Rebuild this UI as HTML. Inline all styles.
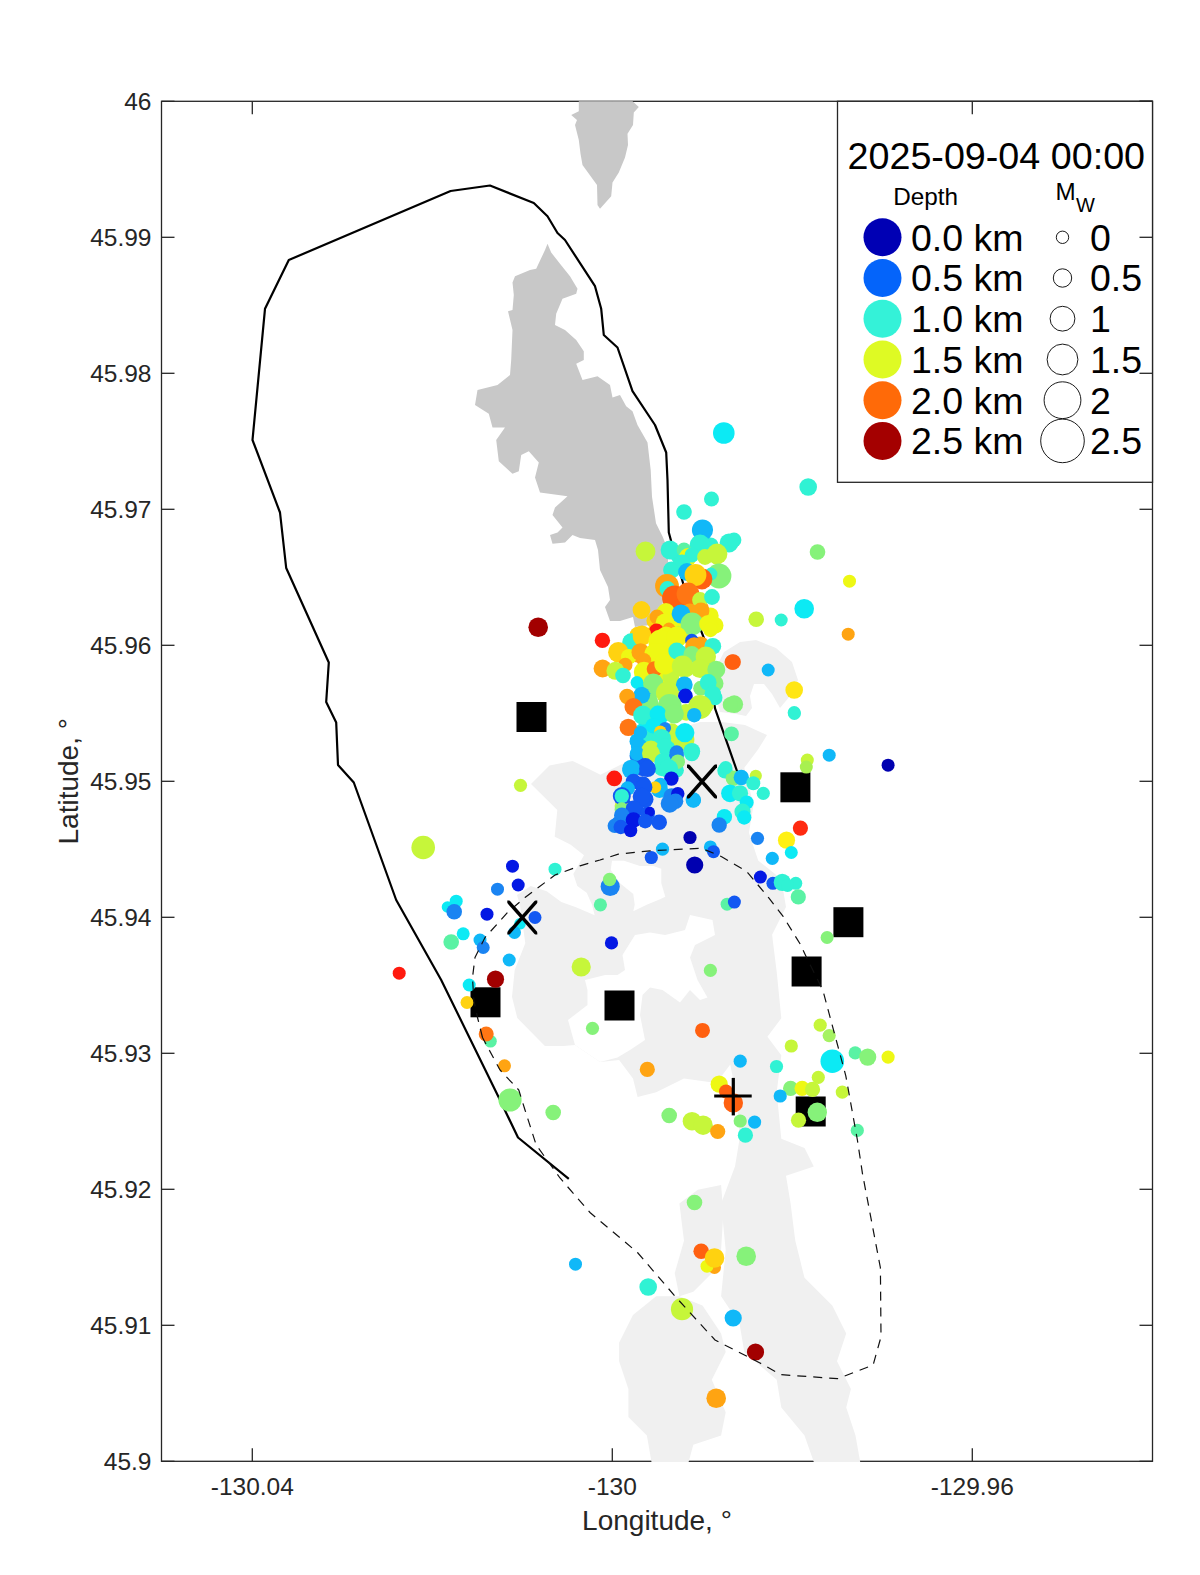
<!DOCTYPE html>
<html><head><meta charset="utf-8"><title>Earthquake map</title>
<style>html,body{margin:0;padding:0;background:#fff;}svg{display:block;}</style>
</head><body>
<svg width="1200" height="1575" viewBox="0 0 1200 1575">
<rect width="1200" height="1575" fill="#fff"/>
<g stroke="#262626" stroke-width="1.3" fill="none">
<rect x="161.5" y="101.3" width="991.0" height="1360.0"/>
<line x1="161.5" y1="101.3" x2="174.5" y2="101.3"/>
<line x1="1152.5" y1="101.3" x2="1139.5" y2="101.3"/>
<line x1="161.5" y1="237.3" x2="174.5" y2="237.3"/>
<line x1="1152.5" y1="237.3" x2="1139.5" y2="237.3"/>
<line x1="161.5" y1="373.3" x2="174.5" y2="373.3"/>
<line x1="1152.5" y1="373.3" x2="1139.5" y2="373.3"/>
<line x1="161.5" y1="509.3" x2="174.5" y2="509.3"/>
<line x1="1152.5" y1="509.3" x2="1139.5" y2="509.3"/>
<line x1="161.5" y1="645.3" x2="174.5" y2="645.3"/>
<line x1="1152.5" y1="645.3" x2="1139.5" y2="645.3"/>
<line x1="161.5" y1="781.3" x2="174.5" y2="781.3"/>
<line x1="1152.5" y1="781.3" x2="1139.5" y2="781.3"/>
<line x1="161.5" y1="917.3" x2="174.5" y2="917.3"/>
<line x1="1152.5" y1="917.3" x2="1139.5" y2="917.3"/>
<line x1="161.5" y1="1053.3" x2="174.5" y2="1053.3"/>
<line x1="1152.5" y1="1053.3" x2="1139.5" y2="1053.3"/>
<line x1="161.5" y1="1189.3" x2="174.5" y2="1189.3"/>
<line x1="1152.5" y1="1189.3" x2="1139.5" y2="1189.3"/>
<line x1="161.5" y1="1325.3" x2="174.5" y2="1325.3"/>
<line x1="1152.5" y1="1325.3" x2="1139.5" y2="1325.3"/>
<line x1="161.5" y1="1461.3" x2="174.5" y2="1461.3"/>
<line x1="1152.5" y1="1461.3" x2="1139.5" y2="1461.3"/>
<line x1="252.3" y1="1461.3" x2="252.3" y2="1448.3"/>
<line x1="252.3" y1="101.3" x2="252.3" y2="114.3"/>
<line x1="612.3" y1="1461.3" x2="612.3" y2="1448.3"/>
<line x1="612.3" y1="101.3" x2="612.3" y2="114.3"/>
<line x1="972.3" y1="1461.3" x2="972.3" y2="1448.3"/>
<line x1="972.3" y1="101.3" x2="972.3" y2="114.3"/>
</g>
<g font-family="Liberation Sans, sans-serif" fill="#262626" font-size="24.5">
<text x="151.5" y="110.0" text-anchor="end">46</text>
<text x="151.5" y="246.0" text-anchor="end">45.99</text>
<text x="151.5" y="382.0" text-anchor="end">45.98</text>
<text x="151.5" y="518.0" text-anchor="end">45.97</text>
<text x="151.5" y="654.0" text-anchor="end">45.96</text>
<text x="151.5" y="790.0" text-anchor="end">45.95</text>
<text x="151.5" y="926.0" text-anchor="end">45.94</text>
<text x="151.5" y="1062.0" text-anchor="end">45.93</text>
<text x="151.5" y="1198.0" text-anchor="end">45.92</text>
<text x="151.5" y="1334.0" text-anchor="end">45.91</text>
<text x="151.5" y="1470.0" text-anchor="end">45.9</text>
<text x="252.3" y="1494.8" text-anchor="middle">-130.04</text>
<text x="612.3" y="1494.8" text-anchor="middle">-130</text>
<text x="972.3" y="1494.8" text-anchor="middle">-129.96</text>
</g>
<text x="657" y="1530" text-anchor="middle" font-family="Liberation Sans, sans-serif" font-size="28" fill="#262626">Longitude, °</text>
<text transform="translate(78.3 781.3) rotate(-90)" text-anchor="middle" font-family="Liberation Sans, sans-serif" font-size="28" fill="#262626">Latitude, °</text>
<g fill="#F0F0F0" stroke="none">
<polygon points="724.0,652.0 740.0,642.0 756.0,640.0 776.0,648.0 792.0,662.0 798.0,680.0 790.0,696.0 780.0,708.0 772.0,694.0 764.0,684.0 754.0,684.0 750.0,696.0 752.0,708.0 746.0,716.0 736.0,714.0 720.0,712.0 714.0,690.0 716.0,668.0"/>
<polygon points="531.0,784.0 549.5,765.5 572.7,760.9 600.5,774.8 633.0,758.5 660.0,735.0 700.0,722.0 722.0,722.0 745.0,725.0 767.0,735.0 758.2,749.3 744.3,767.8 753.5,804.9 748.9,832.7 758.2,860.5 781.3,879.1 786.0,906.9 772.1,934.7 776.7,971.8 781.3,1018.2 767.4,1036.7 781.3,1055.2 776.7,1092.3 781.3,1138.7 804.5,1148.0 813.8,1166.5 786.0,1175.8 790.6,1203.6 795.3,1240.7 804.5,1277.8 832.3,1305.6 846.2,1333.4 837.0,1361.2 850.9,1389.0 846.2,1407.6 855.5,1435.4 860.2,1462.0 813.8,1462.0 804.5,1435.4 781.3,1407.6 776.7,1379.8 744.3,1352.0 739.6,1324.1 721.1,1296.3 725.7,1250.0 721.1,1203.6 735.0,1166.5 739.6,1138.7 737.3,1101.6 730.3,1064.5 716.4,1083.1 684.0,1078.4 656.2,1092.3 637.6,1097.0 633.0,1078.4 619.1,1059.9 600.0,1062.0 575.0,1045.0 563.4,1046.0 544.9,1046.0 517.3,1018.0 512.0,996.7 514.7,970.0 525.3,943.3 520.0,905.0 517.0,895.0 530.7,886.0 546.7,891.3 561.3,902.0 576.0,907.3 594.7,915.3 592.0,904.7 586.7,892.7 577.3,886.0 573.3,874.0 584.0,855.3 570.7,844.7 560.0,839.3 554.7,836.7 557.3,810.0"/>
<polygon points="679.4,1203.6 697.9,1189.7 721.1,1185.0 723.4,1212.9 721.1,1250.0 711.8,1273.2 693.3,1291.7 679.4,1296.3 674.7,1273.2 684.0,1240.7"/>
<polygon points="619.1,1342.7 633.0,1314.9 656.2,1296.3 679.4,1296.3 702.5,1305.6 721.1,1333.4 725.7,1352.0 711.8,1379.8 725.7,1412.2 721.1,1435.4 693.3,1444.7 688.6,1462.0 651.5,1462.0 646.9,1435.4 628.4,1416.9 628.4,1389.0 619.1,1361.2"/>
</g>
<g fill="#fff" stroke="none">
<polygon points="612.0,860.7 610.7,870.0 620.0,883.3 633.3,894.0 634.7,904.7 633.3,911.3 646.7,904.7 660.0,899.3 665.3,896.7 661.3,883.3 661.3,868.7 653.3,866.0 640.0,866.0 624.0,860.7"/>
<polygon points="575.0,1045.0 568.0,1020.0 587.5,1005.0 587.5,990.0 585.0,980.0 605.0,975.0 617.5,975.0 625.0,970.0 622.5,955.0 635.0,935.0 650.0,932.5 665.0,935.0 685.0,930.0 690.0,915.0 712.5,920.0 715.0,935.0 695.0,945.0 690.0,957.5 697.5,980.0 707.5,997.5 700.0,1000.0 690.0,990.0 680.0,1002.5 662.5,990.0 650.0,987.5 642.5,995.0 640.0,1015.0 645.0,1040.0 630.0,1050.0 617.5,1057.5 600.0,1062.0"/>
</g>
<g fill="#C8C8C8" stroke="none">
<polygon points="578.8,101.3 632.5,101.3 638.8,107.0 633.8,112.5 633.0,125.0 627.5,133.8 628.0,145.0 625.0,157.5 618.8,172.5 612.5,182.5 611.2,196.2 600.0,208.8 597.5,205.0 597.0,185.0 582.5,165.0 580.5,153.8 578.8,140.0 575.0,125.0 577.0,120.0 571.2,115.0 578.8,111.2"/>
<polygon points="547.5,243.8 551.2,252.5 560.0,263.8 570.0,276.2 577.5,288.8 576.2,293.8 562.5,298.8 556.2,313.8 555.0,325.0 565.0,330.0 576.2,340.0 583.8,351.2 583.8,360.0 576.2,363.8 582.5,380.0 597.5,376.2 610.0,385.0 612.5,397.5 620.0,395.0 626.2,406.2 632.5,411.2 637.5,425.0 647.5,442.5 650.7,470.0 652.0,496.7 656.0,523.3 662.7,536.7 668.0,550.0 668.0,576.7 662.7,603.3 650.0,625.0 635.0,627.0 633.0,617.0 620.0,621.0 610.0,621.0 605.0,607.0 610.0,600.0 608.0,587.0 600.0,570.0 598.0,550.0 595.0,540.0 580.0,538.0 572.5,535.0 565.0,542.5 552.5,543.8 550.0,535.0 557.5,532.5 562.5,527.5 552.5,515.0 555.0,507.5 567.5,496.2 540.0,492.5 535.0,477.5 538.8,462.5 528.8,451.2 521.2,455.0 518.8,471.2 512.5,473.8 498.8,461.2 496.2,440.0 505.0,427.5 492.5,427.5 488.8,413.8 475.0,405.0 477.5,390.0 497.5,385.0 510.0,375.0 511.2,360.0 512.5,330.0 508.0,311.2 512.5,310.0 513.8,295.0 512.5,282.5 515.0,276.2 530.0,270.0 536.2,268.8 545.0,250.0"/>
</g>
<polyline points="737.5,772.5 715.0,708.3 706.2,643.8 701.2,631.2 685.0,590.0 671.2,541.2 668.8,532.5 667.5,480.0 666.2,452.5 655.0,425.0 632.5,391.2 617.5,347.5 603.8,335.0 601.2,308.8 595.0,286.2 565.0,240.0 557.5,233.0 547.5,216.2 533.8,203.0 490.0,185.5 450.6,191.0 288.8,260.0 265.0,308.8 252.5,440.0 280.0,512.5 286.2,568.0 328.8,662.5 326.2,702.0 336.2,722.5 338.0,765.0 353.8,782.5 396.2,900.0 441.2,980.0 498.8,1097.5 518.0,1137.5 568.8,1178.8" fill="none" stroke="#000" stroke-width="2.2" stroke-linejoin="round"/>
<g fill="#000">
<rect x="516.5" y="702.0" width="30" height="30"/>
<rect x="470.5" y="987.3" width="30" height="30"/>
<rect x="604.5" y="990.5" width="30" height="30"/>
<rect x="780.4" y="772.3" width="30" height="30"/>
<rect x="833.4" y="907.2" width="30" height="30"/>
<rect x="791.6" y="956.5" width="30" height="30"/>
<rect x="795.7" y="1096.5" width="30" height="30"/>
</g>
<g stroke="none">
<circle cx="723.8" cy="433.0" r="10.8" fill="#0CEAF4"/>
<circle cx="808.2" cy="487.0" r="8.8" fill="#30F2D4"/>
<circle cx="711.5" cy="499.0" r="7.5" fill="#30F2D4"/>
<circle cx="684.0" cy="512.0" r="7.8" fill="#30F2D4"/>
<circle cx="817.5" cy="552.0" r="7.8" fill="#86F27A"/>
<circle cx="849.5" cy="581.2" r="6.5" fill="#EEF814"/>
<circle cx="804.2" cy="608.8" r="9.8" fill="#0CEAF4"/>
<circle cx="756.2" cy="619.2" r="7.8" fill="#C6F63A"/>
<circle cx="781.2" cy="620.0" r="6.5" fill="#30F2D4"/>
<circle cx="848.2" cy="634.2" r="6.5" fill="#FFA412"/>
<circle cx="733.2" cy="662.0" r="7.7" fill="#FF6010"/>
<circle cx="768.2" cy="670.0" r="6.5" fill="#10B8F8"/>
<circle cx="794.2" cy="690.0" r="8.8" fill="#FFE614"/>
<circle cx="734.2" cy="704.2" r="8.9" fill="#86F27A"/>
<circle cx="794.2" cy="712.5" r="6.5" fill="#30F2D4"/>
<circle cx="538.2" cy="627.3" r="9.8" fill="#A20000"/>
<circle cx="602.4" cy="640.4" r="7.7" fill="#FF1A0E"/>
<circle cx="520.5" cy="785.3" r="6.6" fill="#C6F63A"/>
<circle cx="423.2" cy="847.5" r="11.8" fill="#C6F63A"/>
<circle cx="512.5" cy="866.2" r="6.5" fill="#0418E4"/>
<circle cx="555.0" cy="869.2" r="6.5" fill="#30F2D4"/>
<circle cx="518.2" cy="885.0" r="6.5" fill="#0418E4"/>
<circle cx="497.5" cy="889.2" r="6.5" fill="#1A84F2"/>
<circle cx="456.2" cy="901.2" r="6.5" fill="#0CEAF4"/>
<circle cx="447.5" cy="907.0" r="5.8" fill="#0CEAF4"/>
<circle cx="454.2" cy="911.8" r="7.8" fill="#1A84F2"/>
<circle cx="487.0" cy="914.2" r="6.5" fill="#0418E4"/>
<circle cx="535.0" cy="917.5" r="6.5" fill="#1258F2"/>
<circle cx="520.0" cy="923.8" r="5.8" fill="#0CEAF4"/>
<circle cx="514.5" cy="932.5" r="6.5" fill="#10B8F8"/>
<circle cx="463.2" cy="933.8" r="6.5" fill="#0CEAF4"/>
<circle cx="451.2" cy="942.0" r="7.8" fill="#5AF2A4"/>
<circle cx="480.0" cy="940.0" r="6.5" fill="#10B8F8"/>
<circle cx="483.2" cy="947.5" r="6.5" fill="#1A84F2"/>
<circle cx="509.2" cy="960.0" r="6.5" fill="#10B8F8"/>
<circle cx="399.2" cy="973.2" r="6.5" fill="#FF1A0E"/>
<circle cx="581.2" cy="967.0" r="9.6" fill="#C6F63A"/>
<circle cx="495.5" cy="979.2" r="8.6" fill="#A20000"/>
<circle cx="469.2" cy="985.0" r="6.5" fill="#0CEAF4"/>
<circle cx="467.0" cy="1002.5" r="6.5" fill="#FFD210"/>
<circle cx="490.5" cy="1041.2" r="6.3" fill="#5AF2A4"/>
<circle cx="486.2" cy="1034.0" r="7.5" fill="#FF7614"/>
<circle cx="504.5" cy="1065.8" r="6.5" fill="#FFA412"/>
<circle cx="510.0" cy="1100.0" r="11.6" fill="#86F27A"/>
<circle cx="553.2" cy="1112.5" r="7.8" fill="#86F27A"/>
<circle cx="575.5" cy="1264.2" r="6.5" fill="#10B8F8"/>
<circle cx="648.2" cy="1287.0" r="8.8" fill="#30F2D4"/>
<circle cx="600.4" cy="904.8" r="6.6" fill="#5AF2A4"/>
<circle cx="610.2" cy="886.5" r="9.6" fill="#1A84F2"/>
<circle cx="609.6" cy="879.5" r="6.7" fill="#86F27A"/>
<circle cx="611.5" cy="942.9" r="6.6" fill="#0418E4"/>
<circle cx="592.5" cy="1028.3" r="6.6" fill="#86F27A"/>
<circle cx="702.5" cy="1030.4" r="7.5" fill="#FF6010"/>
<circle cx="710.4" cy="970.4" r="6.6" fill="#86F27A"/>
<circle cx="647.3" cy="1069.4" r="7.6" fill="#FFA412"/>
<circle cx="669.2" cy="1115.5" r="7.8" fill="#86F27A"/>
<circle cx="692.0" cy="1121.2" r="9.3" fill="#C6F63A"/>
<circle cx="703.1" cy="1125.2" r="9.7" fill="#C6F63A"/>
<circle cx="717.7" cy="1131.5" r="7.6" fill="#FFA412"/>
<circle cx="740.2" cy="1121.0" r="6.6" fill="#86F27A"/>
<circle cx="754.6" cy="1122.1" r="6.6" fill="#10B8F8"/>
<circle cx="745.4" cy="1135.2" r="7.6" fill="#30F2D4"/>
<circle cx="740.2" cy="1061.2" r="6.6" fill="#10B8F8"/>
<circle cx="776.5" cy="1066.5" r="6.6" fill="#30F2D4"/>
<circle cx="791.3" cy="1046.0" r="6.6" fill="#C6F63A"/>
<circle cx="820.2" cy="1025.2" r="6.6" fill="#C6F63A"/>
<circle cx="829.2" cy="1035.6" r="6.6" fill="#A6F262"/>
<circle cx="832.3" cy="1061.2" r="11.8" fill="#0CEAF4"/>
<circle cx="855.2" cy="1052.9" r="6.6" fill="#5AF2A4"/>
<circle cx="867.7" cy="1057.1" r="8.6" fill="#86F27A"/>
<circle cx="888.1" cy="1057.1" r="6.6" fill="#EEF814"/>
<circle cx="818.3" cy="1077.3" r="6.6" fill="#C6F63A"/>
<circle cx="790.6" cy="1088.3" r="7.6" fill="#86F27A"/>
<circle cx="802.1" cy="1088.3" r="7.6" fill="#EEF814"/>
<circle cx="812.5" cy="1089.4" r="7.6" fill="#C6F63A"/>
<circle cx="842.3" cy="1092.1" r="6.6" fill="#C6F63A"/>
<circle cx="780.2" cy="1096.0" r="6.6" fill="#10B8F8"/>
<circle cx="719.2" cy="1084.2" r="8.6" fill="#EEF814"/>
<circle cx="726.0" cy="1091.5" r="7.0" fill="#FF6010"/>
<circle cx="733.3" cy="1102.9" r="9.7" fill="#FF6010"/>
<circle cx="817.3" cy="1112.3" r="9.7" fill="#86F27A"/>
<circle cx="798.5" cy="1120.2" r="7.6" fill="#C6F63A"/>
<circle cx="857.3" cy="1130.4" r="6.6" fill="#5AF2A4"/>
<circle cx="694.5" cy="1202.5" r="7.8" fill="#86F27A"/>
<circle cx="701.2" cy="1251.2" r="7.8" fill="#FF6010"/>
<circle cx="714.5" cy="1267.5" r="6.5" fill="#FFA412"/>
<circle cx="707.0" cy="1266.2" r="6.5" fill="#EEF814"/>
<circle cx="714.5" cy="1258.0" r="9.8" fill="#FFD210"/>
<circle cx="746.2" cy="1256.2" r="9.8" fill="#86F27A"/>
<circle cx="682.0" cy="1309.2" r="11.1" fill="#C6F63A"/>
<circle cx="733.2" cy="1318.0" r="8.6" fill="#10B8F8"/>
<circle cx="755.5" cy="1352.0" r="8.6" fill="#A20000"/>
<circle cx="716.2" cy="1398.2" r="9.8" fill="#FFA412"/>
<circle cx="794.4" cy="713.5" r="6.5" fill="#30F2D4"/>
<circle cx="829.2" cy="755.2" r="6.5" fill="#10B8F8"/>
<circle cx="807.3" cy="760.0" r="6.5" fill="#C6F63A"/>
<circle cx="806.3" cy="767.1" r="6.5" fill="#A8F050"/>
<circle cx="888.1" cy="765.2" r="6.5" fill="#0000B0"/>
<circle cx="800.4" cy="828.1" r="7.6" fill="#FF2A10"/>
<circle cx="786.5" cy="840.2" r="8.6" fill="#FFF014"/>
<circle cx="791.3" cy="852.5" r="6.5" fill="#0CEAF4"/>
<circle cx="757.5" cy="838.3" r="6.6" fill="#1A84F2"/>
<circle cx="772.3" cy="858.3" r="6.6" fill="#10B8F8"/>
<circle cx="760.4" cy="877.1" r="6.5" fill="#0418E4"/>
<circle cx="772.9" cy="883.3" r="6.5" fill="#1258F2"/>
<circle cx="782.3" cy="882.3" r="8.6" fill="#30F2D4"/>
<circle cx="795.8" cy="883.3" r="6.5" fill="#30F2D4"/>
<circle cx="787.5" cy="885.4" r="6.5" fill="#30F2D4"/>
<circle cx="798.3" cy="896.9" r="7.6" fill="#5AF2A4"/>
<circle cx="727.1" cy="904.2" r="6.5" fill="#5AF2A4"/>
<circle cx="734.4" cy="902.1" r="6.5" fill="#1258F2"/>
<circle cx="724.4" cy="816.7" r="7.7" fill="#0CEAF4"/>
<circle cx="719.2" cy="825.0" r="7.7" fill="#1A84F2"/>
<circle cx="710.4" cy="846.9" r="6.5" fill="#10B8F8"/>
<circle cx="713.5" cy="851.7" r="6.5" fill="#1258F2"/>
<circle cx="827.1" cy="937.5" r="6.5" fill="#86F27A"/>
<circle cx="694.7" cy="865.0" r="8.6" fill="#0000B0"/>
<circle cx="690.0" cy="837.5" r="6.6" fill="#0000B0"/>
<circle cx="662.5" cy="849.2" r="6.6" fill="#10B8F8"/>
<circle cx="651.3" cy="857.5" r="6.6" fill="#1258F2"/>
<circle cx="725.0" cy="770.8" r="7.7" fill="#30F2D4"/>
<circle cx="733.3" cy="778.3" r="7.7" fill="#86F27A"/>
<circle cx="741.3" cy="777.5" r="7.7" fill="#10B8F8"/>
<circle cx="755.8" cy="775.8" r="6.1" fill="#C6F63A"/>
<circle cx="753.3" cy="783.3" r="7.0" fill="#30F2D4"/>
<circle cx="730.0" cy="793.3" r="8.9" fill="#0CEAF4"/>
<circle cx="740.0" cy="793.3" r="8.1" fill="#30F2D4"/>
<circle cx="763.3" cy="793.3" r="6.6" fill="#30F2D4"/>
<circle cx="746.7" cy="802.5" r="7.0" fill="#0CEAF4"/>
<circle cx="742.5" cy="811.7" r="8.1" fill="#30F2D4"/>
<circle cx="744.2" cy="817.5" r="7.2" fill="#0CEAF4"/>
<circle cx="693.3" cy="800.0" r="7.7" fill="#10B8F8"/>
<circle cx="642.7" cy="683.4" r="8.4" fill="#0CEAF4"/>
<circle cx="650.0" cy="693.0" r="8.4" fill="#86F27A"/>
<circle cx="642.7" cy="695.4" r="8.4" fill="#10B8F8"/>
<circle cx="652.4" cy="710.0" r="8.4" fill="#30F2D4"/>
<circle cx="666.9" cy="712.3" r="8.4" fill="#86F27A"/>
<circle cx="659.6" cy="717.1" r="8.4" fill="#0CEAF4"/>
<circle cx="686.2" cy="712.3" r="8.4" fill="#C6F63A"/>
<circle cx="671.7" cy="731.6" r="8.4" fill="#C6F63A"/>
<circle cx="652.4" cy="731.6" r="8.4" fill="#30F2D4"/>
<circle cx="642.7" cy="731.6" r="8.4" fill="#0CEAF4"/>
<circle cx="637.9" cy="741.3" r="8.4" fill="#10B8F8"/>
<circle cx="659.6" cy="741.3" r="8.4" fill="#30F2D4"/>
<circle cx="676.5" cy="741.3" r="8.4" fill="#C6F63A"/>
<circle cx="652.4" cy="750.9" r="8.4" fill="#C6F63A"/>
<circle cx="637.9" cy="755.7" r="8.4" fill="#1A84F2"/>
<circle cx="671.7" cy="750.9" r="8.4" fill="#30F2D4"/>
<circle cx="676.5" cy="755.7" r="7.4" fill="#1A84F2"/>
<circle cx="642.7" cy="767.8" r="8.4" fill="#1258F2"/>
<circle cx="630.7" cy="770.2" r="8.4" fill="#10B8F8"/>
<circle cx="662.0" cy="767.8" r="8.4" fill="#30F2D4"/>
<circle cx="676.5" cy="770.2" r="7.4" fill="#30F2D4"/>
<circle cx="642.7" cy="784.7" r="8.4" fill="#1258F2"/>
<circle cx="659.6" cy="789.5" r="8.4" fill="#10B8F8"/>
<circle cx="671.7" cy="796.7" r="8.4" fill="#1A84F2"/>
<circle cx="645.1" cy="799.2" r="8.4" fill="#1258F2"/>
<circle cx="635.5" cy="808.8" r="8.4" fill="#1258F2"/>
<circle cx="647.6" cy="813.6" r="7.4" fill="#1258F2"/>
<circle cx="628.3" cy="816.0" r="8.4" fill="#1258F2"/>
<circle cx="618.6" cy="823.3" r="7.4" fill="#1A84F2"/>
<circle cx="623.4" cy="804.0" r="7.4" fill="#1258F2"/>
<circle cx="715.1" cy="625.4" r="8.4" fill="#EEF814"/>
<circle cx="683.7" cy="635.1" r="8.4" fill="#EEF814"/>
<circle cx="700.6" cy="644.8" r="8.4" fill="#FFA412"/>
<circle cx="674.1" cy="625.4" r="8.4" fill="#EEF814"/>
<circle cx="681.3" cy="654.4" r="8.4" fill="#30F2D4"/>
<circle cx="664.4" cy="649.6" r="8.4" fill="#EEF814"/>
<circle cx="652.4" cy="635.1" r="8.4" fill="#FFD210"/>
<circle cx="637.9" cy="635.1" r="8.4" fill="#FFD210"/>
<circle cx="630.7" cy="642.3" r="8.4" fill="#30F2D4"/>
<circle cx="637.9" cy="654.4" r="8.4" fill="#FFA412"/>
<circle cx="650.0" cy="656.8" r="8.4" fill="#FFD210"/>
<circle cx="664.4" cy="666.5" r="8.4" fill="#EEF814"/>
<circle cx="686.2" cy="668.9" r="8.4" fill="#C6F63A"/>
<circle cx="705.5" cy="668.9" r="8.4" fill="#C6F63A"/>
<circle cx="715.1" cy="683.4" r="8.4" fill="#86F27A"/>
<circle cx="700.6" cy="688.2" r="7.4" fill="#86F27A"/>
<circle cx="671.7" cy="688.2" r="8.4" fill="#C6F63A"/>
<circle cx="659.6" cy="678.5" r="8.4" fill="#EEF814"/>
<circle cx="705.5" cy="705.1" r="8.4" fill="#C6F63A"/>
<circle cx="715.1" cy="697.8" r="7.4" fill="#30F2D4"/>
<circle cx="671.7" cy="596.5" r="8.4" fill="#FF6010"/>
<circle cx="683.7" cy="606.2" r="8.4" fill="#C6F63A"/>
<circle cx="700.6" cy="608.6" r="8.4" fill="#FFA412"/>
<circle cx="664.4" cy="613.4" r="8.4" fill="#EEF814"/>
<circle cx="654.8" cy="620.6" r="8.4" fill="#FFD210"/>
<circle cx="710.3" cy="615.8" r="8.4" fill="#EEF814"/>
<circle cx="678.9" cy="555.5" r="8.4" fill="#30F2D4"/>
<circle cx="683.7" cy="565.1" r="8.4" fill="#10B8F8"/>
<circle cx="671.7" cy="570.0" r="8.4" fill="#30F2D4"/>
<circle cx="705.5" cy="555.5" r="8.4" fill="#C6F63A"/>
<circle cx="710.3" cy="545.8" r="8.4" fill="#30F2D4"/>
<circle cx="670.8" cy="676.7" r="8.4" fill="#C6F63A"/>
<circle cx="649.8" cy="702.3" r="8.4" fill="#86F27A"/>
<circle cx="646.3" cy="738.5" r="8.4" fill="#30F2D4"/>
<circle cx="702.5" cy="530.0" r="10.6" fill="#10B8F8"/>
<circle cx="729.0" cy="543.0" r="9.4" fill="#30F2D4"/>
<circle cx="734.0" cy="540.0" r="7.4" fill="#30F2D4"/>
<circle cx="700.0" cy="545.0" r="10.4" fill="#30F2D4"/>
<circle cx="670.0" cy="550.0" r="9.4" fill="#30F2D4"/>
<circle cx="684.0" cy="550.0" r="7.4" fill="#5AF2A4"/>
<circle cx="645.5" cy="551.5" r="9.9" fill="#C6F63A"/>
<circle cx="688.0" cy="557.0" r="8.9" fill="#EEF814"/>
<circle cx="692.0" cy="555.0" r="7.4" fill="#30F2D4"/>
<circle cx="705.0" cy="557.0" r="7.9" fill="#C6F63A"/>
<circle cx="717.0" cy="554.0" r="10.4" fill="#C6F63A"/>
<circle cx="682.0" cy="563.0" r="8.4" fill="#30F2D4"/>
<circle cx="671.0" cy="570.0" r="7.6" fill="#30F2D4"/>
<circle cx="687.0" cy="572.0" r="8.9" fill="#10B8F8"/>
<circle cx="719.0" cy="576.0" r="12.4" fill="#86F27A"/>
<circle cx="711.0" cy="574.0" r="6.4" fill="#30F2D4"/>
<circle cx="702.0" cy="579.0" r="10.4" fill="#FF6010"/>
<circle cx="695.5" cy="575.0" r="10.9" fill="#FFD210"/>
<circle cx="667.0" cy="586.0" r="11.9" fill="#FFA412"/>
<circle cx="667.5" cy="589.0" r="7.9" fill="#30F2D4"/>
<circle cx="674.5" cy="598.0" r="12.4" fill="#FF6010"/>
<circle cx="688.0" cy="594.0" r="11.4" fill="#FF7614"/>
<circle cx="700.0" cy="600.0" r="7.9" fill="#C6F63A"/>
<circle cx="712.0" cy="597.0" r="7.9" fill="#30F2D4"/>
<circle cx="641.5" cy="610.0" r="8.9" fill="#FFD210"/>
<circle cx="701.0" cy="611.0" r="8.4" fill="#FFA412"/>
<circle cx="690.0" cy="612.0" r="8.4" fill="#FFA412"/>
<circle cx="666.0" cy="612.0" r="8.9" fill="#EEF814"/>
<circle cx="681.0" cy="614.0" r="9.4" fill="#10B8F8"/>
<circle cx="657.0" cy="617.0" r="7.4" fill="#FFA412"/>
<circle cx="665.0" cy="623.0" r="9.4" fill="#EEF814"/>
<circle cx="692.0" cy="624.0" r="11.4" fill="#86F27A"/>
<circle cx="708.0" cy="624.0" r="8.9" fill="#EEF814"/>
<circle cx="712.0" cy="627.0" r="6.4" fill="#EEF814"/>
<circle cx="669.0" cy="629.0" r="6.4" fill="#FFA412"/>
<circle cx="656.5" cy="631.0" r="7.6" fill="#FF1A0E"/>
<circle cx="631.2" cy="641.7" r="8.4" fill="#30F2D4"/>
<circle cx="641.7" cy="637.0" r="8.9" fill="#FFD210"/>
<circle cx="642.0" cy="635.0" r="9.4" fill="#FFD210"/>
<circle cx="666.0" cy="636.0" r="9.4" fill="#EEF814"/>
<circle cx="678.0" cy="635.0" r="8.4" fill="#86F27A"/>
<circle cx="660.3" cy="641.7" r="11.9" fill="#EEF814"/>
<circle cx="676.7" cy="637.0" r="10.4" fill="#EEF814"/>
<circle cx="691.8" cy="640.5" r="6.7" fill="#1258F2"/>
<circle cx="694.2" cy="646.3" r="9.0" fill="#FFA412"/>
<circle cx="712.8" cy="646.3" r="8.4" fill="#30F2D4"/>
<circle cx="710.5" cy="630.0" r="7.2" fill="#EEF814"/>
<circle cx="618.3" cy="652.2" r="10.2" fill="#FFD210"/>
<circle cx="628.8" cy="656.8" r="7.8" fill="#EEF814"/>
<circle cx="640.5" cy="652.2" r="9.0" fill="#FFA412"/>
<circle cx="655.7" cy="654.5" r="11.4" fill="#EEF814"/>
<circle cx="644.0" cy="660.3" r="7.2" fill="#FFA412"/>
<circle cx="625.3" cy="665.0" r="7.2" fill="#FFA412"/>
<circle cx="602.6" cy="668.5" r="9.0" fill="#FFA412"/>
<circle cx="615.4" cy="670.8" r="9.0" fill="#C6F63A"/>
<circle cx="623.0" cy="675.5" r="7.8" fill="#30F2D4"/>
<circle cx="644.0" cy="672.0" r="10.2" fill="#EEF814"/>
<circle cx="654.5" cy="669.1" r="7.8" fill="#FF7614"/>
<circle cx="665.0" cy="663.8" r="10.7" fill="#EEF814"/>
<circle cx="676.7" cy="651.0" r="8.4" fill="#30F2D4"/>
<circle cx="691.8" cy="654.5" r="8.4" fill="#86F27A"/>
<circle cx="705.8" cy="656.8" r="10.2" fill="#C6F63A"/>
<circle cx="682.5" cy="666.2" r="10.7" fill="#C6F63A"/>
<circle cx="700.0" cy="668.5" r="9.6" fill="#C6F63A"/>
<circle cx="716.3" cy="669.7" r="9.0" fill="#86F27A"/>
<circle cx="732.1" cy="662.1" r="7.6" fill="#FF6010"/>
<circle cx="637.0" cy="682.5" r="6.4" fill="#0CEAF4"/>
<circle cx="653.3" cy="683.7" r="10.2" fill="#86F27A"/>
<circle cx="684.3" cy="684.8" r="8.4" fill="#10B8F8"/>
<circle cx="708.2" cy="682.5" r="8.4" fill="#30F2D4"/>
<circle cx="641.7" cy="695.3" r="8.4" fill="#10B8F8"/>
<circle cx="667.3" cy="693.0" r="11.3" fill="#C6F63A"/>
<circle cx="685.4" cy="695.9" r="7.4" fill="#0418E4"/>
<circle cx="627.1" cy="696.5" r="7.8" fill="#FFA412"/>
<circle cx="712.8" cy="694.2" r="8.4" fill="#30F2D4"/>
<circle cx="633.5" cy="707.0" r="9.0" fill="#FF7614"/>
<circle cx="669.7" cy="705.8" r="11.9" fill="#86F27A"/>
<circle cx="700.0" cy="707.0" r="11.9" fill="#C6F63A"/>
<circle cx="642.8" cy="715.2" r="9.6" fill="#30F2D4"/>
<circle cx="658.0" cy="714.0" r="8.4" fill="#0CEAF4"/>
<circle cx="674.3" cy="714.0" r="9.6" fill="#86F27A"/>
<circle cx="694.2" cy="715.2" r="7.2" fill="#10B8F8"/>
<circle cx="730.3" cy="704.7" r="7.6" fill="#86F27A"/>
<circle cx="628.3" cy="727.4" r="8.7" fill="#FF7614"/>
<circle cx="653.3" cy="725.7" r="7.8" fill="#0CEAF4"/>
<circle cx="683.7" cy="739.7" r="10.7" fill="#C6F63A"/>
<circle cx="684.8" cy="732.7" r="9.6" fill="#0CEAF4"/>
<circle cx="731.5" cy="733.8" r="7.4" fill="#5AF2A4"/>
<circle cx="640.5" cy="732.7" r="6.7" fill="#10B8F8"/>
<circle cx="665.0" cy="728.0" r="6.1" fill="#1A84F2"/>
<circle cx="660.3" cy="731.5" r="6.1" fill="#FFD210"/>
<circle cx="661.5" cy="738.5" r="9.6" fill="#30F2D4"/>
<circle cx="639.3" cy="746.7" r="8.4" fill="#10B8F8"/>
<circle cx="651.0" cy="750.2" r="9.6" fill="#C6F63A"/>
<circle cx="665.0" cy="746.7" r="8.4" fill="#30F2D4"/>
<circle cx="676.7" cy="752.5" r="7.2" fill="#1A84F2"/>
<circle cx="691.8" cy="751.3" r="8.4" fill="#30F2D4"/>
<circle cx="637.0" cy="753.5" r="7.2" fill="#10B8F8"/>
<circle cx="651.0" cy="753.5" r="9.0" fill="#C6F63A"/>
<circle cx="691.8" cy="753.5" r="7.8" fill="#30F2D4"/>
<circle cx="662.7" cy="761.7" r="8.4" fill="#30F2D4"/>
<circle cx="677.8" cy="761.7" r="7.2" fill="#86F27A"/>
<circle cx="645.2" cy="766.5" r="8.4" fill="#1258F2"/>
<circle cx="631.2" cy="768.7" r="9.0" fill="#10B8F8"/>
<circle cx="647.5" cy="768.7" r="8.4" fill="#1258F2"/>
<circle cx="668.5" cy="768.7" r="9.6" fill="#30F2D4"/>
<circle cx="725.7" cy="767.7" r="6.7" fill="#30F2D4"/>
<circle cx="614.3" cy="778.4" r="7.8" fill="#FF1A0E"/>
<circle cx="671.4" cy="778.6" r="7.2" fill="#0418E4"/>
<circle cx="633.5" cy="781.5" r="7.8" fill="#1258F2"/>
<circle cx="660.3" cy="785.0" r="7.2" fill="#10B8F8"/>
<circle cx="655.1" cy="787.3" r="6.1" fill="#FFD210"/>
<circle cx="644.0" cy="787.3" r="8.4" fill="#1258F2"/>
<circle cx="627.7" cy="788.5" r="7.2" fill="#10B8F8"/>
<circle cx="677.8" cy="793.8" r="6.7" fill="#0418E4"/>
<circle cx="621.8" cy="806.0" r="7.2" fill="#C6F63A"/>
<circle cx="621.8" cy="796.1" r="9.0" fill="#1258F2"/>
<circle cx="621.8" cy="796.1" r="7.2" fill="#30F2D4"/>
<circle cx="641.7" cy="796.7" r="9.0" fill="#1258F2"/>
<circle cx="675.5" cy="801.3" r="7.8" fill="#1A84F2"/>
<circle cx="669.7" cy="803.7" r="9.0" fill="#1A84F2"/>
<circle cx="693.6" cy="800.2" r="7.2" fill="#10B8F8"/>
<circle cx="621.8" cy="809.5" r="7.2" fill="#86F27A"/>
<circle cx="633.5" cy="808.3" r="7.8" fill="#1258F2"/>
<circle cx="649.8" cy="811.8" r="5.0" fill="#0418E4"/>
<circle cx="621.8" cy="815.3" r="7.8" fill="#1A84F2"/>
<circle cx="633.5" cy="820.0" r="7.8" fill="#0418E4"/>
<circle cx="645.2" cy="821.2" r="7.2" fill="#1258F2"/>
<circle cx="659.2" cy="822.3" r="7.8" fill="#1258F2"/>
<circle cx="614.8" cy="825.8" r="7.2" fill="#1A84F2"/>
<circle cx="620.7" cy="827.0" r="7.2" fill="#1258F2"/>
<circle cx="630.6" cy="830.5" r="6.7" fill="#0418E4"/>
</g>
<polyline points="482.5,1037.5 477.5,1017.5 473.8,1000.0 472.5,977.5 475.0,957.5 485.0,937.5 507.5,912.5 525.0,897.5 555.0,875.0 580.0,865.8 600.0,860.0 618.3,854.2 650.0,850.8 701.7,848.3 721.7,856.7 743.8,869.8 747.9,872.9 768.8,897.9 783.3,916.7 800.0,943.8 806.3,957.0 822.9,990.4 845.8,1075.8 857.4,1140.0 862.5,1173.8 880.4,1267.7 881.0,1336.9 873.1,1365.1 837.5,1378.7 780.9,1374.6 760.0,1363.0 715.0,1340.0 675.0,1296.2 637.5,1252.5 590.0,1212.5 560.0,1178.0 536.2,1145.0 525.0,1110.0 518.8,1090.0 500.0,1070.0 482.5,1037.5" fill="none" stroke="#111" stroke-width="1.2" stroke-dasharray="9,7"/>
<clipPath id="xc0"><rect x="507.3" y="900.5" width="30" height="34"/></clipPath>
<g stroke="#000" stroke-width="3.5" clip-path="url(#xc0)">
<line x1="504.3" y1="897.1" x2="540.3" y2="937.9"/>
<line x1="504.3" y1="937.9" x2="540.3" y2="897.1"/>
</g>
<clipPath id="xc1"><rect x="687.0" y="764.5" width="30" height="34"/></clipPath>
<g stroke="#000" stroke-width="3.5" clip-path="url(#xc1)">
<line x1="684.0" y1="761.1" x2="720.0" y2="801.9"/>
<line x1="684.0" y1="801.9" x2="720.0" y2="761.1"/>
</g>
<g stroke="#000" stroke-width="3.2"><line x1="714.2" y1="1096" x2="751.7" y2="1096"/><line x1="733.3" y1="1077.9" x2="733.3" y2="1115.4"/></g>
<rect x="837.5" y="101.3" width="315" height="381" fill="#fff" stroke="#262626" stroke-width="1.3"/>
<g font-family="Liberation Sans, sans-serif" fill="#000">
<text x="847.5" y="169.3" font-size="37.7">2025-09-04 00:00</text>
<text x="893.3" y="204.7" font-size="24.3">Depth</text>
<text x="1055.5" y="199.8" font-size="24.2">M</text>
<text x="1076" y="211.8" font-size="20">W</text>
<circle cx="882.5" cy="237.3" r="19" fill="#0000B4"/>
<text x="911" y="250.6" font-size="37.5">0.0 km</text>
<circle cx="1062.5" cy="237.3" r="6.2" fill="none" stroke="#000" stroke-width="0.9"/>
<text x="1090" y="250.6" font-size="37.5">0</text>
<circle cx="882.5" cy="278.0" r="19" fill="#0464FA"/>
<text x="911" y="291.3" font-size="37.5">0.5 km</text>
<circle cx="1062.5" cy="278.0" r="9.2" fill="none" stroke="#000" stroke-width="0.9"/>
<text x="1090" y="291.3" font-size="37.5">0.5</text>
<circle cx="882.5" cy="318.7" r="19" fill="#34F2D8"/>
<text x="911" y="332.0" font-size="37.5">1.0 km</text>
<circle cx="1062.5" cy="318.7" r="12.4" fill="none" stroke="#000" stroke-width="0.9"/>
<text x="1090" y="332.0" font-size="37.5">1</text>
<circle cx="882.5" cy="359.5" r="19" fill="#DEFA24"/>
<text x="911" y="372.8" font-size="37.5">1.5 km</text>
<circle cx="1062.5" cy="359.5" r="15.4" fill="none" stroke="#000" stroke-width="0.9"/>
<text x="1090" y="372.8" font-size="37.5">1.5</text>
<circle cx="882.5" cy="400.2" r="19" fill="#FF6A08"/>
<text x="911" y="413.5" font-size="37.5">2.0 km</text>
<circle cx="1062.5" cy="400.2" r="18.4" fill="none" stroke="#000" stroke-width="0.9"/>
<text x="1090" y="413.5" font-size="37.5">2</text>
<circle cx="882.5" cy="440.9" r="19" fill="#A40000"/>
<text x="911" y="454.2" font-size="37.5">2.5 km</text>
<circle cx="1062.5" cy="440.9" r="21.8" fill="none" stroke="#000" stroke-width="0.9"/>
<text x="1090" y="454.2" font-size="37.5">2.5</text>
</g>
<g stroke="#262626" stroke-width="1.3">
<line x1="1152.5" y1="101.3" x2="1139.5" y2="101.3"/>
<line x1="1152.5" y1="237.3" x2="1139.5" y2="237.3"/>
<line x1="1152.5" y1="373.3" x2="1139.5" y2="373.3"/>
<line x1="972.3" y1="101.3" x2="972.3" y2="114.3"/>
</g>
</svg>
</body></html>
